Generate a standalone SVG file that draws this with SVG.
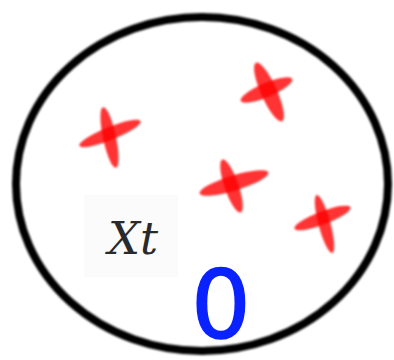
<svg xmlns="http://www.w3.org/2000/svg" width="394" height="360" viewBox="0 0 394 360">
<defs>
<filter id="soft" x="-20%" y="-20%" width="140%" height="140%"><feGaussianBlur stdDeviation="0.9"/></filter>
</defs>
<style>
.cross ellipse{fill:#ff0000;opacity:0.8}
.cross{filter:url(#soft)}
.ring{fill:none;stroke:#000;stroke-width:8}
.lbl{font-family:"DejaVu Serif","Liberation Serif",serif;font-style:italic;font-size:45px;fill:#2a2a2a}
.zero{font-family:"DejaVu Sans","Liberation Sans",sans-serif;font-size:94px;fill:#0a22ff;stroke:#0a22ff;stroke-width:1.5}
</style>
<rect width="394" height="360" fill="#fff"/>
<g id="boundary"><ellipse class="ring" cx="202" cy="184" rx="186" ry="167" filter="url(#soft)"/></g>
<g id="label-bg"><rect x="84" y="195" width="94" height="82" fill="#fbfbfb"/></g>
<g id="cross1" class="cross">
<ellipse cx="110" cy="133.5" rx="33" ry="6.5" transform="rotate(-22 110 133.5)"/>
<ellipse cx="109.5" cy="137.5" rx="31" ry="6.5" transform="rotate(78 109.5 137.5)"/>
</g>
<g id="cross2" class="cross">
<ellipse cx="266.5" cy="90" rx="28" ry="7" transform="rotate(-23 266.5 90)"/>
<ellipse cx="269" cy="92" rx="32" ry="8" transform="rotate(66 269 92)"/>
</g>
<g id="cross3" class="cross">
<ellipse cx="234" cy="183" rx="36" ry="7.5" transform="rotate(-17 234 183)"/>
<ellipse cx="231.5" cy="186" rx="28" ry="7" transform="rotate(71 231.5 186)"/>
</g>
<g id="cross4" class="cross">
<ellipse cx="322.5" cy="218" rx="30" ry="6.5" transform="rotate(-21 322.5 218)"/>
<ellipse cx="324.5" cy="224" rx="30" ry="6" transform="rotate(75 324.5 224)"/>
</g>
<g id="xt"><text class="lbl" x="108" y="254">Xt</text></g>
<g id="zero"><text class="zero" x="221" y="338" text-anchor="middle">0</text></g>
<g id="connectors"/>
</svg>
